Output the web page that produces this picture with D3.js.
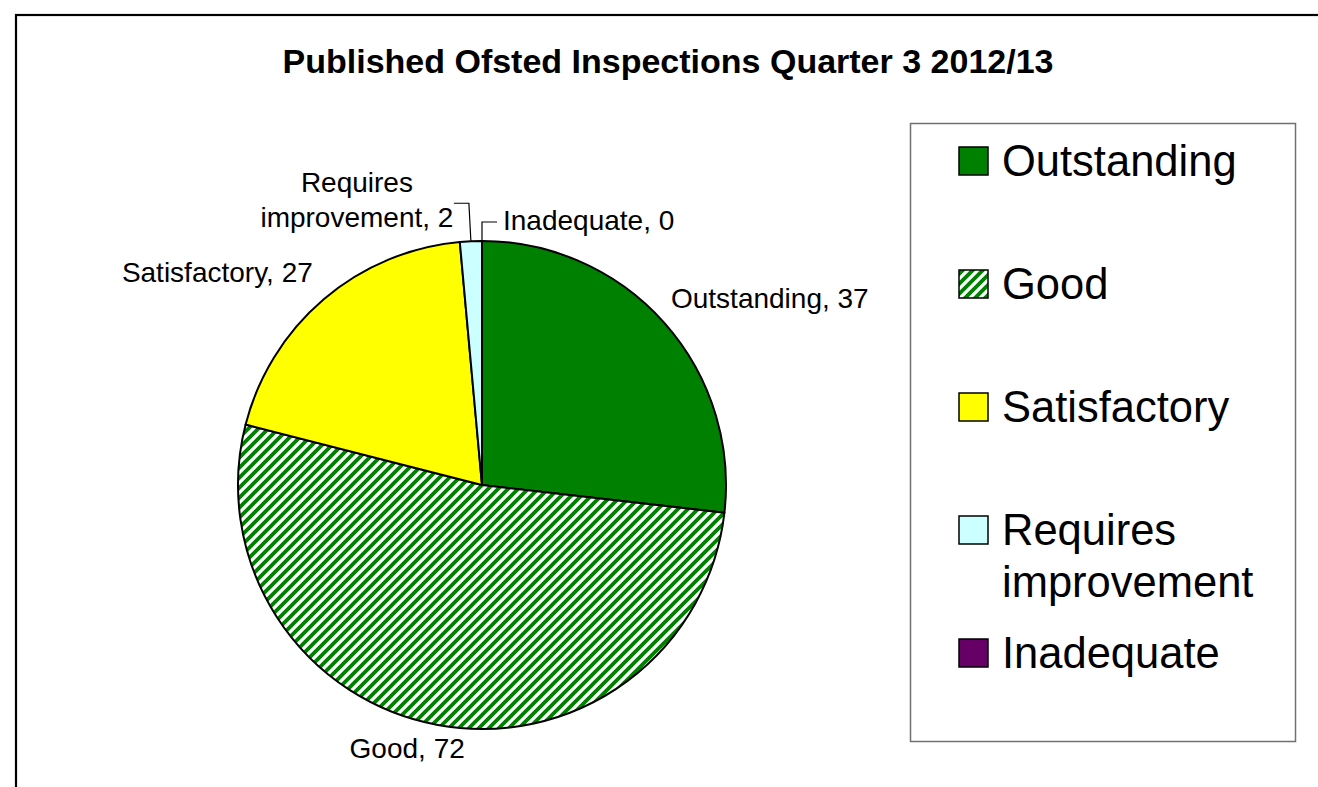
<!DOCTYPE html>
<html>
<head>
<meta charset="utf-8">
<script src="https://cdn.jsdelivr.net/npm/d3@7"></script>
<style>
  body { margin: 0; background: #fff; }
  svg { display: block; font-family: "Liberation Sans", Arial, sans-serif; }
</style>
</head>
<body>
<div id="svg-container"></div>
<script>
// data
const categories = ["Outstanding", "Good", "Satisfactory", "Requires improvement", "Inadequate"];
const values = [37, 72, 27, 2, 0];
const legendLabels = [["Outstanding"], ["Good"], ["Satisfactory"], ["Requires", "improvement"], ["Inadequate"]];
const sliceColors = ["#008000", "url(#hatch)", "#ffff00", "#ccffff", "#660066"];
const title = "Published Ofsted Inspections Quarter 3 2012/13";

const width = 1318, height = 787;
const cx = 482, cy = 485, radius = 244;

const svg = d3.select("#svg-container").append("svg")
  .attr("width", width).attr("height", height);

// hatch pattern for "Good"
const defs = svg.append("defs");
const pat = defs.append("pattern")
  .attr("id", "hatch")
  .attr("patternUnits", "userSpaceOnUse")
  .attr("width", 10).attr("height", 10);
pat.append("rect").attr("width", 10).attr("height", 10).attr("fill", "#fff");
pat.append("path")
  .attr("d", "M-2,2 L2,-2 M0,10 L10,0 M8,12 L12,8")
  .attr("stroke", "#008000").attr("stroke-width", 3.8);

// outer frame (cropped on right / bottom)
svg.append("rect")
  .attr("x", 16).attr("y", 15)
  .attr("width", 1400).attr("height", 900)
  .attr("fill", "none").attr("stroke", "#000").attr("stroke-width", 2.2);

// title
svg.append("text")
  .attr("x", 668).attr("y", 73)
  .attr("text-anchor", "middle")
  .attr("font-weight", "bold")
  .attr("font-size", 34)
  .text(title);

// pie
const data = categories.map((c, i) => ({ cat: c, value: values[i], color: sliceColors[i] }));
const pie = d3.pie().sort(null).value(d => d.value);
const arcs = pie(data);
const arc = d3.arc().innerRadius(0).outerRadius(radius);

const g = svg.append("g").attr("transform", `translate(${cx},${cy})`);
g.selectAll("path.slice")
  .data(arcs)
  .join("path")
  .attr("class", "slice")
  .attr("d", arc)
  .attr("fill", d => d.data.color)
  .attr("stroke", "#000")
  .attr("stroke-width", 2)
  .attr("stroke-linejoin", "round");

// labels
const fs = 28;
const mid = d => (d.startAngle + d.endAngle) / 2;
const pt = (a, r) => [r * Math.sin(a), -r * Math.cos(a)];

// label layout: [dx, dy, anchor] relative to the point just outside the rim
const labelLayout = [
  [-8, -1, "start"],
  [-27, 13, "middle"],
  [2, -2, "end"],
  null,
  null
];

arcs.forEach((d, i) => {
  const lay = labelLayout[i];
  if (!lay) return;
  const [x, y] = pt(mid(d), radius + 20);
  g.append("text")
    .attr("x", x + lay[0]).attr("y", y + lay[1])
    .attr("text-anchor", lay[2])
    .attr("font-size", fs)
    .text(`${d.data.cat}, ${d.data.value}`);
});

// requires improvement, with leader
{
  const d = arcs[3];
  const [x0, y0] = pt(mid(d), radius);
  const yTop = y0 - 38;
  const xEnd = x0 - 17;
  g.append("path")
    .attr("d", `M${x0},${y0}L${x0 - 2},${yTop}L${xEnd},${yTop}`)
    .attr("fill", "none").attr("stroke", "#000").attr("stroke-width", 1.2);
  const t = g.append("text")
    .attr("text-anchor", "middle")
    .attr("font-size", fs);
  t.append("tspan").attr("x", xEnd - 97).attr("y", yTop - 11).text("Requires");
  t.append("tspan").attr("x", xEnd - 97).attr("y", yTop + 24).text(`improvement, ${d.data.value}`);
}

// inadequate, with leader
{
  const d = arcs[4];
  const [x0, y0] = pt(mid(d), radius);
  const yTop = y0 - 19;
  g.append("path")
    .attr("d", `M${x0},${y0}L${x0},${yTop}L${x0 + 15},${yTop}`)
    .attr("fill", "none").attr("stroke", "#000").attr("stroke-width", 1.2);
  g.append("text")
    .attr("x", x0 + 21).attr("y", yTop + 8)
    .attr("font-size", fs)
    .text(`${d.data.cat}, ${d.data.value}`);
}

// legend
svg.append("rect")
  .attr("x", 910.5).attr("y", 123.5)
  .attr("width", 385).attr("height", 618)
  .attr("fill", "#fff").attr("stroke", "#707070").attr("stroke-width", 1.5);

const legendY = d3.scalePoint().domain(categories).range([161, 653]);
const lg = svg.append("g").selectAll("g")
  .data(data)
  .join("g")
  .attr("transform", d => `translate(959,${legendY(d.cat)})`);

lg.append("rect")
  .attr("x", 0).attr("y", -14)
  .attr("width", 29).attr("height", 28)
  .attr("fill", d => d.color)
  .attr("stroke", "#000").attr("stroke-width", 1.5);

lg.each(function (d, i) {
  const t = d3.select(this).append("text")
    .attr("font-size", 43.5);
  legendLabels[i].forEach((line, j) => {
    t.append("tspan").attr("x", 43).attr("y", 15 + j * 52).text(line);
  });
});
</script>
</body>
</html>
